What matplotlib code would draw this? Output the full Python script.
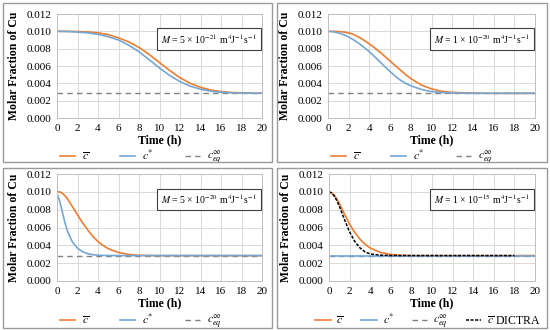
import numpy as np
import matplotlib
matplotlib.use("Agg")
import matplotlib.pyplot as plt
from matplotlib.patches import Rectangle

plt.rcParams['font.family'] = ['Liberation Serif', 'DejaVu Serif']
plt.rcParams['mathtext.fontset'] = 'stix'

C_EQ = 0.00285

# panel 1, M = 5e-21
t1 = [0, 1, 2, 3, 4, 5, 6, 7, 8, 9, 10, 11, 12, 13, 14, 15, 16, 17, 18, 19, 20]
cbar1 = [0.0100, 0.0100, 0.00998, 0.00993, 0.00983, 0.00962, 0.00925, 0.00878, 0.00815, 0.00732,
         0.00640, 0.00548, 0.00465, 0.00400, 0.00354, 0.00323, 0.00305, 0.00295, 0.00290, 0.00287, 0.00286]
cstar1 = [0.0100, 0.00998, 0.00992, 0.00982, 0.00965, 0.00938, 0.00900, 0.00840, 0.00764, 0.00672,
          0.00577, 0.00490, 0.00420, 0.00367, 0.00332, 0.00310, 0.00297, 0.00290, 0.00287, 0.00286, 0.00285]

# panel 2, M = 1e-20
t2 = [0, 0.5, 1, 1.5, 2, 2.5, 3, 3.5, 4, 4.5, 5, 5.5, 6, 6.5, 7, 7.5, 8, 9, 10, 11, 12, 14, 16, 18, 20]
cbar2 = [0.0100, 0.0100, 0.00998, 0.00993, 0.00982, 0.00962, 0.00932, 0.00895, 0.00855, 0.00810,
         0.00762, 0.00710, 0.00657, 0.00604, 0.00552, 0.00502, 0.00455, 0.00382, 0.00336, 0.00308,
         0.00295, 0.00287, 0.00285, 0.00285, 0.00285]
cstar2 = [0.0100, 0.00995, 0.00982, 0.00962, 0.00935, 0.00900, 0.00860, 0.00814, 0.00764, 0.00708,
          0.00650, 0.00592, 0.00535, 0.00482, 0.00436, 0.00400, 0.00372, 0.00330, 0.00305, 0.00294,
          0.00288, 0.00285, 0.00285, 0.00285, 0.00285]

# panel 3, M = 5e-20
t3 = [0, 0.25, 0.5, 0.75, 1, 1.5, 2, 2.5, 3, 3.5, 4, 4.5, 5, 6, 7, 8, 9, 10, 12, 14, 16, 18, 20]
cbar3 = [0.0100, 0.01000, 0.00985, 0.00960, 0.00925, 0.00835, 0.00742, 0.00652, 0.00572, 0.00500,
         0.00442, 0.00398, 0.00362, 0.00320, 0.00298, 0.00288, 0.00286, 0.00285, 0.00285, 0.00285,
         0.00285, 0.00285, 0.00285]
cstar3 = [0.0098, 0.00900, 0.00785, 0.00665, 0.00565, 0.00438, 0.00368, 0.00328, 0.00306, 0.00295,
          0.00289, 0.00287, 0.00286, 0.00285, 0.00285, 0.00285, 0.00285, 0.00285, 0.00285, 0.00285,
          0.00285, 0.00285, 0.00285]

# panel 4, M = 1e-15
t4 = [0, 0.25, 0.5, 0.75, 1, 1.5, 2, 2.5, 3, 3.5, 4, 5, 6, 7, 8, 10, 12, 14, 16, 18, 20]
cbar4 = [0.0100, 0.00990, 0.00962, 0.00920, 0.00870, 0.00752, 0.00636, 0.00545, 0.00470, 0.00412,
         0.00370, 0.00320, 0.00298, 0.00289, 0.00286, 0.00285, 0.00285, 0.00285, 0.00285, 0.00285, 0.00285]
cstar4 = [0.00285] * len(t4)
t_dictra = [0, 0.25, 0.5, 0.75, 1, 1.5, 2, 2.5, 3, 3.5, 4, 5, 6, 8, 10, 12, 14, 16, 18]
c_dictra = [0.0100, 0.00988, 0.00955, 0.00905, 0.00840, 0.00690, 0.00550, 0.00445, 0.00372, 0.00326,
            0.00303, 0.00290, 0.00286, 0.00285, 0.00285, 0.00285, 0.00285, 0.00285, 0.00285]

labels_M = [r'$M$ = 5 × 10$^{-21}$ m$^{4}$J$^{-1}$s$^{-1}$',
            r'$M$ = 1 × 10$^{-20}$ m$^{4}$J$^{-1}$s$^{-1}$',
            r'$M$ = 5 × 10$^{-20}$ m$^{4}$J$^{-1}$s$^{-1}$',
            r'$M$ = 1 × 10$^{-15}$ m$^{4}$J$^{-1}$s$^{-1}$']

ORANGE = '#ED7D31'
BLUE = '#76A6D3'
GREY = '#808080'

fig = plt.figure(figsize=(5.5, 3.3), dpi=100)
W, H = 550.0, 330.0

# (left, right, top, bottom) of plot areas in pixels
areas = [(57, 262, 14, 118), (328, 535, 14, 118),
         (57, 262, 174, 281), (329, 535, 174, 281)]
boxes = [(3, 272, 3, 162), (277, 547, 3, 162),
         (3, 272, 168, 328), (277, 547, 168, 328)]

for (x0, x1, y0, y1) in boxes:
    fig.patches.append(Rectangle((x0 / W, 1 - y1 / H), (x1 - x0) / W, (y1 - y0) / H,
                                 transform=fig.transFigure, fill=False,
                                 edgecolor='#9a9a9a', linewidth=1.0))

data = [(t1, cbar1, cstar1), (t2, cbar2, cstar2), (t3, cbar3, cstar3), (t4, cbar4, cstar4)]

for i, (l, r, tp, b) in enumerate(areas):
    ax = fig.add_axes([l / W, 1 - b / H, (r - l) / W, (b - tp) / H])
    t, cb, cs = data[i]
    ax.plot([0, 20], [C_EQ, C_EQ], color=GREY, lw=1.0, ls=(0, (4, 3)), label=r'$c_{eq}^{\infty}$')
    ax.plot(t, cb, color=ORANGE, lw=1.2, label=r'$\overline{c}$')
    ax.plot(t, cs, color=BLUE, lw=1.2, label=r'$c^{*}$')
    if i == 3:
        ax.plot(t_dictra, c_dictra, color='black', lw=1.1, ls=(0, (2, 1)),
                label=r'$\overline{c}$ DICTRA')
    ax.set_xlim(0, 20)
    ax.set_ylim(0, 0.012)
    ax.set_xticks(np.arange(0, 21, 2))
    ax.set_yticks(np.arange(0, 0.0121, 0.002))
    ax.set_yticklabels(['%.3f' % v for v in np.arange(0, 0.0121, 0.002)])
    ax.grid(True, color='#d9d9d9', lw=0.7)
    ax.set_axisbelow(True)
    for s in ax.spines.values():
        s.set_color('#bfbfbf')
        s.set_linewidth(0.7)
    ax.tick_params(length=0, labelsize=8, pad=4)
    ax.set_xlabel('Time (h)', fontsize=8.5, fontweight='bold', labelpad=1)
    ax.set_ylabel('Molar Fraction of Cu', fontsize=8.5, fontweight='bold', labelpad=5)
    ax.text(0.975, 0.76, labels_M[i], transform=ax.transAxes, ha='right', va='center',
            fontsize=7, bbox=dict(boxstyle='square,pad=0.4', fc='white', ec='#404040', lw=0.8))

    h, lab = ax.get_legend_handles_labels()
    order = [1, 2, 0] + ([3] if i == 3 else [])
    if i < 3:
        leg = ax.legend([h[k] for k in order], [lab[k] for k in order], loc='upper left',
                        bbox_to_anchor=(-0.01, -0.25), ncol=3, frameon=False,
                        fontsize=8.5, handlelength=1.3, columnspacing=2.6,
                        handletextpad=0.6, borderaxespad=0)
    else:
        leg = ax.legend([h[k] for k in order], [lab[k] for k in order], loc='upper left',
                        bbox_to_anchor=(-0.09, -0.25), ncol=4, frameon=False,
                        fontsize=8.5, handlelength=1.3, columnspacing=1.5,
                        handletextpad=0.5, borderaxespad=0)

fig.savefig('out.png', dpi=100)
